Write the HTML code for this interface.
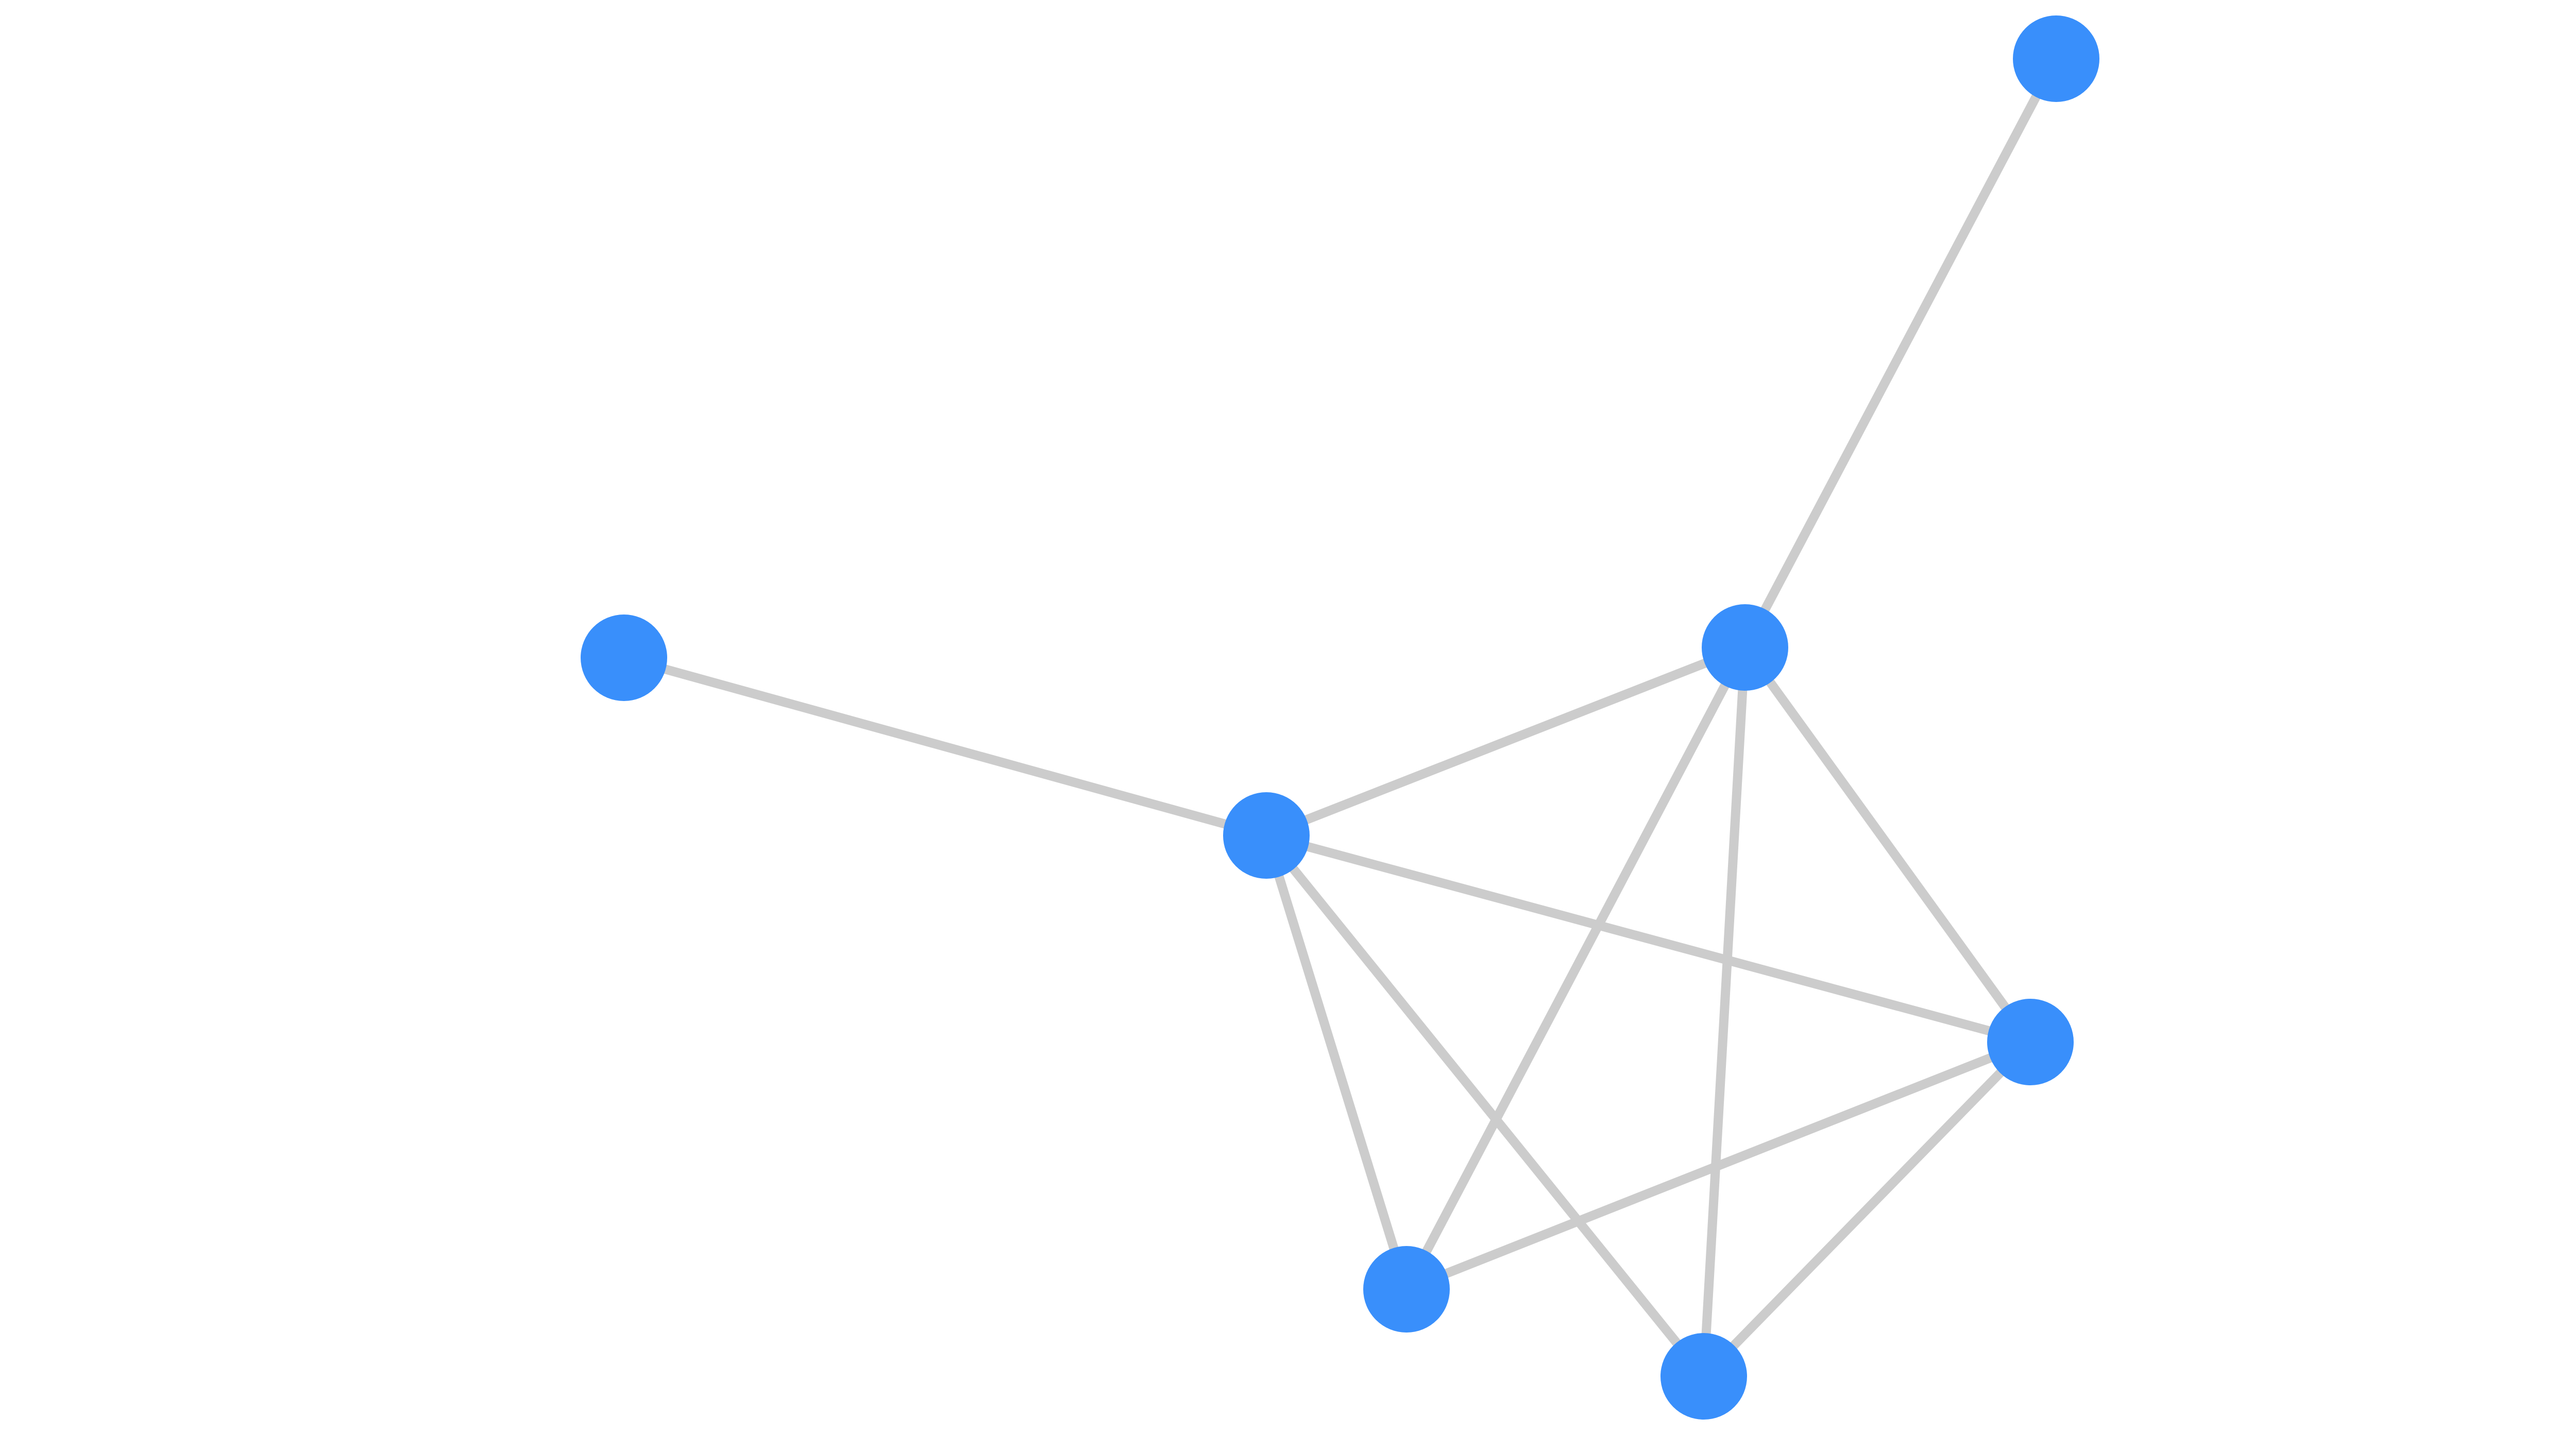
<!DOCTYPE html>
<html><head><style>html,body{margin:0;padding:0;background:#fff}svg{display:block}</style></head>
<body>
<svg width="5200" height="2784" viewBox="0 0 5200 2784" xmlns="http://www.w3.org/2000/svg">
<g stroke="#cccccc" stroke-width="18" fill="none">
<line x1="3991" y1="114" x2="3387" y2="1257"/>
<line x1="1211" y1="1277" x2="2458" y2="1622"/>
<line x1="2458" y1="1622" x2="3387" y2="1257"/>
<line x1="2458" y1="1622" x2="3941" y2="2023"/>
<line x1="2458" y1="1622" x2="2730" y2="2503"/>
<line x1="2458" y1="1622" x2="3307" y2="2672"/>
<line x1="3387" y1="1257" x2="2730" y2="2503"/>
<line x1="3387" y1="1257" x2="3307" y2="2672"/>
<line x1="3387" y1="1257" x2="3941" y2="2023"/>
<line x1="3941" y1="2023" x2="2730" y2="2503"/>
<line x1="3941" y1="2023" x2="3307" y2="2672"/>
</g>
<g fill="#398ffb">
<circle cx="3991" cy="114" r="84"/>
<circle cx="1211" cy="1277" r="84"/>
<circle cx="2458" cy="1622" r="84"/>
<circle cx="3387" cy="1257" r="84"/>
<circle cx="3941" cy="2023" r="84"/>
<circle cx="2730" cy="2503" r="84"/>
<circle cx="3307" cy="2672" r="84"/>
</g>
</svg>
</body></html>
